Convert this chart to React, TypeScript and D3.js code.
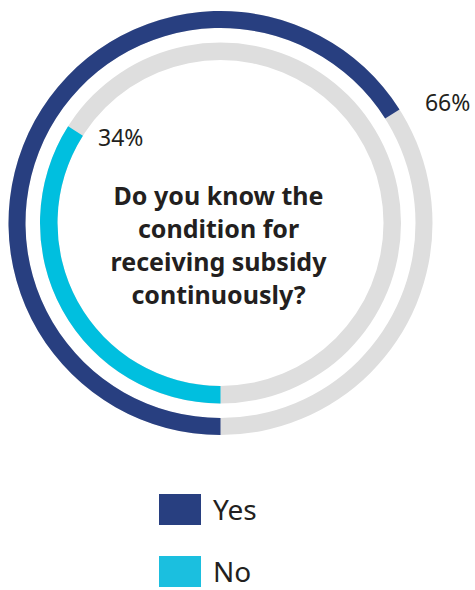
import React from "react";
import * as d3 from "d3";

const categories = ["Yes", "No"];
const values = [66, 34];
const colors = ["#283f80", "#00bfdf"];
const legendColors = ["#283f80", "#1bbfdf"];
const titleLines = ["Do you know the", "condition for", "receiving subsidy", "continuously?"];

const W = 475;
const H = 590;
const FONT = "'Noto Sans', 'Open Sans', sans-serif";

export default function App() {
  const cx = 220.5;
  const cy = 223;
  const rings = [
    { outer: 212, inner: 195 },
    { outer: 180.5, inner: 163 },
  ];
  const angle = d3.scaleLinear().domain([0, 100]).range([Math.PI, 3 * Math.PI]);
  const arc = d3.arc<any>();

  const labelPlacements = [
    { r: 237, dA: 0.035 },
    { r: 149, dA: 0.04 },
  ];

  return (
    <svg width={W} height={H} style={{ position: "absolute", left: 0, top: 0 }}>
      <g transform={`translate(${cx},${cy})`}>
        {categories.map((c, i) => {
          const ring = rings[i];
          const end = angle(values[i]);
          const bg = arc({ innerRadius: ring.inner, outerRadius: ring.outer, startAngle: 0, endAngle: 2 * Math.PI });
          const fg = arc({ innerRadius: ring.inner, outerRadius: ring.outer, startAngle: Math.PI, endAngle: end });
          const lp = labelPlacements[i];
          const la = end + lp.dA;
          const lx = lp.r * Math.sin(la);
          const ly = -lp.r * Math.cos(la);
          return (
            <g key={c}>
              <path d={bg || ""} fill="#dedede" />
              <path d={fg || ""} fill={colors[i]} />
              <text x={lx} y={ly} dy="0.35em" fontFamily={FONT} fontSize={23} fill="#231f20" textAnchor="start">
                {values[i]}%
              </text>
            </g>
          );
        })}
        <text fontFamily={FONT} fontWeight="bold" fontSize={25} fill="#231f20" textAnchor="middle">
          {titleLines.map((t, i) => (
            <tspan key={i} x={-2} y={-18 + i * 33}>
              {t}
            </tspan>
          ))}
        </text>
      </g>
      {categories.map((c, i) => (
        <g key={c} transform={`translate(159,${494 + i * 62})`}>
          <rect width={42} height={31} fill={legendColors[i]} />
          <text x={54} y={26} fontFamily={FONT} fontSize={28} fill="#231f20">
            {c}
          </text>
        </g>
      ))}
    </svg>
  );
}
